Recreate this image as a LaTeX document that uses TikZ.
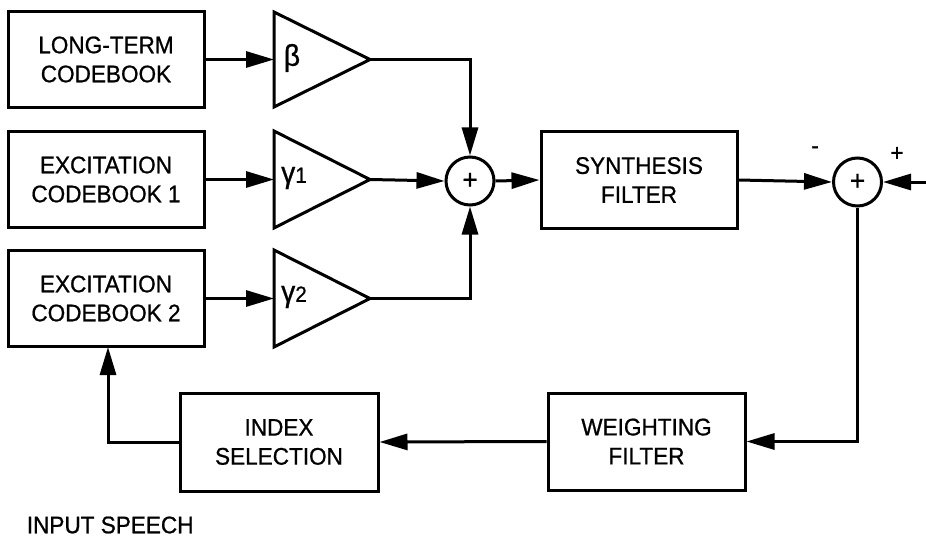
\documentclass[tikz,border=0pt]{standalone}
\usepackage{fontspec}
\setmainfont[FakeStretch=0.94,FakeBold=0.8]{Liberation Sans}
\usetikzlibrary{arrows.meta}
\begin{document}
\begin{tikzpicture}[x=1pt,y=-1pt,
  line width=3pt,
  every node/.style={font=\fontsize{24}{29}\selectfont},
  blk/.style={draw, line width=3pt, align=center, minimum width=196, minimum height=96, inner sep=0pt},
  sumnode/.style={draw, circle, line width=3pt, minimum size=48, inner sep=0pt, font=\fontsize{28}{30}\selectfont},
  greek/.style={font=\fontsize{30}{32}\selectfont, inner sep=0pt},
  tri/.style={draw, line width=3pt, line join=miter},
  arr/.style={-{Triangle[length=28pt,width=16pt]}, line width=3pt}
]
\useasboundingbox (0,0) rectangle (926,559);

% boxes
\node[blk] (lt)  at (106,59.5)  {LONG-TERM\\CODEBOOK};
\node[blk] (ex1) at (106,179.5) {EXCITATION\\CODEBOOK 1};
\node[blk] (ex2) at (106,298.5) {EXCITATION\\CODEBOOK 2};
\node[blk] (syn) at (639,180)   {SYNTHESIS\\FILTER};
\node[blk, minimum width=198, minimum height=98] (idx) at (279,442) {INDEX\\SELECTION};
\node[blk, minimum width=197, minimum height=97] (wgt) at (646.5,441.5) {WEIGHTING\\FILTER};

% gain triangles
\draw[tri] (274,12) -- (370,59.5) -- (274,107) -- cycle;
\draw[tri] (274,131) -- (370,179.5) -- (274,228) -- cycle;
\draw[tri] (274,250) -- (370,298.5) -- (274,347) -- cycle;
\coordinate (bin) at (274,59.5);   \coordinate (bout) at (370,59.5);
\coordinate (g1in) at (274,179.5); \coordinate (g1out) at (370,179.5);
\coordinate (g2in) at (274,298.5); \coordinate (g2out) at (370,298.5);
\node[greek] (lb)  at (292,58)  {β};
\node[greek] (lg1) at (294,178) {γ{\fontsize{22}{24}\selectfont 1}};
\node[greek] (lg2) at (294,297) {γ{\fontsize{22}{24}\selectfont 2}};

% summing junctions
\node[sumnode] (s1) at (470,181) {+};
\node[sumnode] (s2) at (857.5,182) {+};
\node (minus) at (815,150) {-};
\node (plus)  at (897,154) {+};

\coordinate (inp) at (926,182);
\coordinate (fb) at (108,347);

% connectors
\draw[arr] (lt.east) -- (bin);
\draw[arr] (ex1.east) -- (g1in);
\draw[arr] (ex2.east) -- (g2in);
\draw[arr] (bout) -| (s1.north);
\draw[arr] (g1out) -- (s1.west);
\draw[arr] (g2out) -| (s1.south);
\draw[arr] (s1.east) -- (syn.west);
\draw[arr] (syn.east) -- (s2.west);
\draw[arr] (inp) -- (s2.east);
\draw[arr] (s2.south) |- (wgt.east);
\draw[arr] (wgt.west) -- (idx.east);
\draw[arr] (idx.west) -| (fb);

\node[anchor=west] (speech) at (22,525) {INPUT SPEECH};
\end{tikzpicture}
\end{document}
